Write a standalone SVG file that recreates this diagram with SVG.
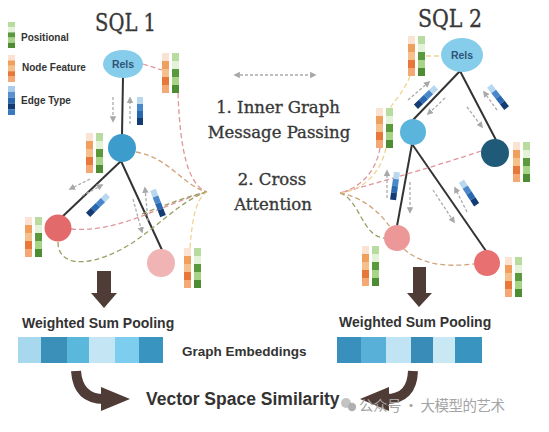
<svg xmlns="http://www.w3.org/2000/svg" width="549" height="432" viewBox="0 0 549 432">
<defs>
<style>
.serif{font-family:"DejaVu Serif","Liberation Serif",serif;fill:#383838;stroke:#383838;stroke-width:0.35}
.sans{font-family:"Liberation Sans",Arial,sans-serif;font-weight:bold;fill:#333}
.edge{stroke:#333;stroke-width:2;fill:none}
.msg{stroke:#ababab;stroke-width:1.3;stroke-dasharray:3 2;fill:none;marker-end:url(#ga)}
.att{fill:none;stroke-width:1.3;stroke-dasharray:5 3}
.pk{stroke:#e0959a}
.ol{stroke:#98a064}
.tn{stroke:#cfa47a}
.yl{stroke:#efd494}
.brown{fill:#4f3c37}
.brs{stroke:#4f3c37;stroke-width:10;fill:none}
.rels{fill:#86cdec}
.relt{font-family:"Liberation Sans",Arial,sans-serif;font-weight:bold;font-size:10.5px;fill:#2f5577}
.o1{fill:#fbe3d4}.o2{fill:#f0a05c}.o3{fill:#f6c08c}.o4{fill:#e8773a}.o5{fill:#f4a874}
.g1{fill:#b8dca0}.g2{fill:#e4f2d8}.g3{fill:#5a9a3c}.g4{fill:#a8d488}.g5{fill:#4e8c34}
</style>
<marker id="ga" viewBox="0 0 8 8" refX="6" refY="4" markerWidth="5" markerHeight="5" orient="auto-start-reverse"><path d="M0,0 L8,4 L0,8 z" fill="#a8a8a8"/></marker>
<g id="fp">
<rect class="o1" x="0" y="0" width="7" height="8"/><rect class="o2" x="0" y="8" width="7" height="8"/><rect class="o3" x="0" y="16" width="7" height="8"/><rect class="o4" x="0" y="24" width="7" height="8"/><rect class="o5" x="0" y="32" width="7" height="8"/>
<rect class="g1" x="10" y="0" width="7" height="8"/><rect class="g2" x="10" y="8" width="7" height="8"/><rect class="g3" x="10" y="16" width="7" height="8"/><rect class="g4" x="10" y="24" width="7" height="8"/><rect class="g5" x="10" y="32" width="7" height="8"/>
</g>
<g id="et">
<rect x="-3" y="-14" width="6" height="7" fill="#b8d8f0"/><rect x="-3" y="-7" width="6" height="7" fill="#4a88cc"/><rect x="-3" y="0" width="6" height="7" fill="#2a68b0"/><rect x="-3" y="7" width="6" height="7" fill="#143c74"/>
</g>
</defs>
<rect width="549" height="432" fill="#ffffff"/>

<g id="legend">
<rect class="g1" x="8" y="22" width="7" height="5.2"/><rect class="g2" x="8" y="27.2" width="7" height="5.2"/><rect class="g3" x="8" y="32.4" width="7" height="5.2"/><rect class="g4" x="8" y="37.6" width="7" height="5.2"/><rect class="g5" x="8" y="42.8" width="7" height="5.2"/>
<rect class="o1" x="8" y="55" width="7" height="5.4"/><rect class="o2" x="8" y="60.4" width="7" height="5.4"/><rect class="o3" x="8" y="65.8" width="7" height="5.4"/><rect class="o4" x="8" y="71.2" width="7" height="5.4"/><rect class="o5" x="8" y="76.6" width="7" height="5.4"/>
<rect x="8" y="86" width="7" height="5.8" fill="#a8cceb"/><rect x="8" y="91.8" width="7" height="5.8" fill="#5a90d0"/><rect x="8" y="97.6" width="7" height="5.8" fill="#2a68b0"/><rect x="8" y="103.4" width="7" height="5.8" fill="#143c74"/><rect x="8" y="109.2" width="7" height="5.8" fill="#3a78c0"/>
<text class="sans" x="21" y="41" font-size="10">Positional</text>
<text class="sans" x="22" y="71" font-size="10">Node Feature</text>
<text class="sans" x="21" y="104" font-size="10">Edge Type</text>
</g>

<g id="titles">
<text class="serif" x="95" y="31" font-size="23.5" textLength="61" lengthAdjust="spacingAndGlyphs">SQL 1</text>
<text class="serif" x="418" y="27" font-size="23.5" textLength="64" lengthAdjust="spacingAndGlyphs">SQL 2</text>
</g>

<g id="steps">
<text class="serif" x="278" y="113" font-size="16.5" text-anchor="middle">1. Inner Graph</text>
<text class="serif" x="279" y="138" font-size="16.5" text-anchor="middle">Message Passing</text>
<text class="serif" x="272" y="185" font-size="16.5" text-anchor="middle">2. Cross</text>
<text class="serif" x="273" y="210" font-size="16.5" text-anchor="middle">Attention</text>
</g>

<g id="connectors">
<path class="edge" d="M123,77 L122,135"/>
<path class="edge" d="M121,161 L62,217"/>
<path class="edge" d="M121,161 L162,250"/>
<path class="edge" d="M460,71 L412,121"/>
<path class="edge" d="M460,71 L496,140"/>
<path class="edge" d="M412,144 L397,226"/>
<path class="edge" d="M412,144 L486,251"/>
<path class="att pk" d="M143,64 L162,70"/>
<path class="att pk" d="M178,93 C180,150 188,185 207,192"/>
<path class="att tn" d="M136,152 C170,158 182,185 207,192"/>
<path class="att pk" d="M71,229 C120,233 160,205 207,192"/>
<path class="att ol" d="M58,242 C58,265 85,268 120,250 C150,235 180,200 207,192"/>
<path class="att ol" d="M142,214 C165,205 188,196 207,192"/>
<path class="att yl" d="M190,248 C192,220 196,198 207,192"/>
<path class="att yl" d="M426,56 L441,56"/>
<path class="att yl" d="M410,76 C405,90 395,100 390,108"/>
<path class="att pk" d="M481,151 C440,165 380,182 340,193"/>
<path class="att pk" d="M380,148 C376,172 360,188 340,193"/>
<path class="att yl" d="M386,148 C380,175 362,190 340,193"/>
<path class="att ol" d="M340,193 C360,200 362,236 384,238"/>
<path class="att tn" d="M340,193 C362,197 380,212 390,227"/>
<path class="att tn" d="M404,249 C425,268 455,266 474,264"/>
<path class="msg" d="M113,97 L113,121"/>
<path class="msg" d="M130,124 L130,98"/>
<path class="msg" d="M90,179 L70,189"/>
<path class="msg" d="M82,196 L102,185"/>
<path class="msg" d="M133,199 L142,232"/>
<path class="msg" d="M148,221 L145,188"/>
<path class="msg" d="M408,100 L429,82"/>
<path class="msg" d="M445,98 L428,114"/>
<path class="msg" d="M467,107 L482,127"/>
<path class="msg" d="M497,110 L484,92"/>
<path class="msg" d="M387,198 L387,171"/>
<path class="msg" d="M410,182 L410,212"/>
<path class="msg" d="M433,190 L454,222"/>
<path class="msg" d="M467,212 L455,188"/>
<path class="msg" d="M235,75 L315,75" marker-start="url(#ga)"/>
<rect class="brown" x="97" y="271" width="14" height="23"/>
<polygon class="brown" points="91,293 117,293 104,308"/>
<rect class="brown" x="413" y="267" width="13" height="27"/>
<polygon class="brown" points="407,293 432,293 419,307"/>
<path class="brs" d="M76,371 Q78,399 104,399"/>
<polygon class="brown" points="101,387 130,399 101,411"/>
<path class="brs" d="M413,371 Q412,399 386,399"/>
<polygon class="brown" points="389,387 360,399 389,411"/>
</g>

<g id="edge-features">
<use href="#et" transform="translate(140,111)"/>
<use href="#et" transform="translate(98,205) rotate(45)"/>
<use href="#et" transform="translate(158,203) rotate(-21)"/>
<use href="#et" transform="translate(426,97) rotate(46)"/>
<use href="#et" transform="translate(498,97) rotate(-38)"/>
<use href="#et" transform="translate(395,186) rotate(8)"/>
<use href="#et" transform="translate(469,193) rotate(-33)"/>
</g>

<g id="sql1-rels">
<ellipse class="rels" cx="123" cy="64" rx="20" ry="14"/>
<text class="relt" x="123" y="67.5" text-anchor="middle">Rels</text>
<use href="#fp" x="162" y="53"/>
</g>
<g id="sql1-n2">
<circle cx="122" cy="148" r="14" fill="#3c9ccc"/>
<use href="#fp" x="86" y="133"/>
</g>
<g id="sql1-n3">
<circle cx="58" cy="228" r="13.5" fill="#e26a6a"/>
<use href="#fp" x="25" y="217"/>
</g>
<g id="sql1-n4">
<circle cx="161" cy="263" r="14" fill="#f0b4b4"/>
<use href="#fp" x="184" y="248"/>
</g>

<g id="sql2-rels">
<ellipse class="rels" cx="462" cy="55" rx="21" ry="17"/>
<text class="relt" x="462" y="58.5" text-anchor="middle">Rels</text>
<use href="#fp" x="408" y="36"/>
</g>
<g id="sql2-n2">
<circle cx="413" cy="132" r="13" fill="#5ab4dc"/>
<use href="#fp" x="376" y="108"/>
</g>
<g id="sql2-n3">
<circle cx="495" cy="153" r="14" fill="#1f5b78"/>
<use href="#fp" x="513" y="142"/>
</g>
<g id="sql2-n4">
<circle cx="397" cy="238" r="13" fill="#ec9898"/>
<use href="#fp" x="362" y="246"/>
</g>
<g id="sql2-n5">
<circle cx="487" cy="263" r="13" fill="#e87070"/>
<use href="#fp" x="505" y="257"/>
</g>

<g id="pool1">
<text class="sans" x="22" y="328" font-size="14">Weighted Sum Pooling</text>
<rect x="18" y="337" width="23" height="26" fill="#a8d8ee"/>
<rect x="41" y="337" width="26" height="26" fill="#3a90b8"/>
<rect x="67" y="337" width="22" height="26" fill="#5ab8dc"/>
<rect x="89" y="337" width="26" height="26" fill="#c4e6f4"/>
<rect x="115" y="337" width="24" height="26" fill="#7ccdee"/>
<rect x="139" y="337" width="24" height="26" fill="#3a94c0"/>
</g>
<g id="pool2">
<text class="sans" x="339" y="327" font-size="14">Weighted Sum Pooling</text>
<rect x="337" y="337" width="24" height="26" fill="#3a90bc"/>
<rect x="361" y="337" width="25" height="26" fill="#58b0d8"/>
<rect x="386" y="337" width="25" height="26" fill="#c0e4f4"/>
<rect x="411" y="337" width="22" height="26" fill="#3a8cb8"/>
<rect x="433" y="337" width="22" height="26" fill="#c8e8f4"/>
<rect x="455" y="337" width="27" height="26" fill="#3a94c0"/>
</g>
<text class="sans" x="182" y="356" font-size="13.5">Graph Embeddings</text>
<text class="sans" x="146" y="405" font-size="17.5">Vector Space Similarity</text>

<g id="watermark">
<circle cx="346" cy="403" r="5" fill="#c4c4c4"/>
<circle cx="352" cy="407" r="4.2" fill="#b0b0b0"/>
<text x="359" y="411" font-size="14.5" fill="#a4a4a4" font-family="'Noto Sans CJK SC','Noto Sans',sans-serif" textLength="146">公众号 · 大模型的艺术</text>
</g>
</svg>
